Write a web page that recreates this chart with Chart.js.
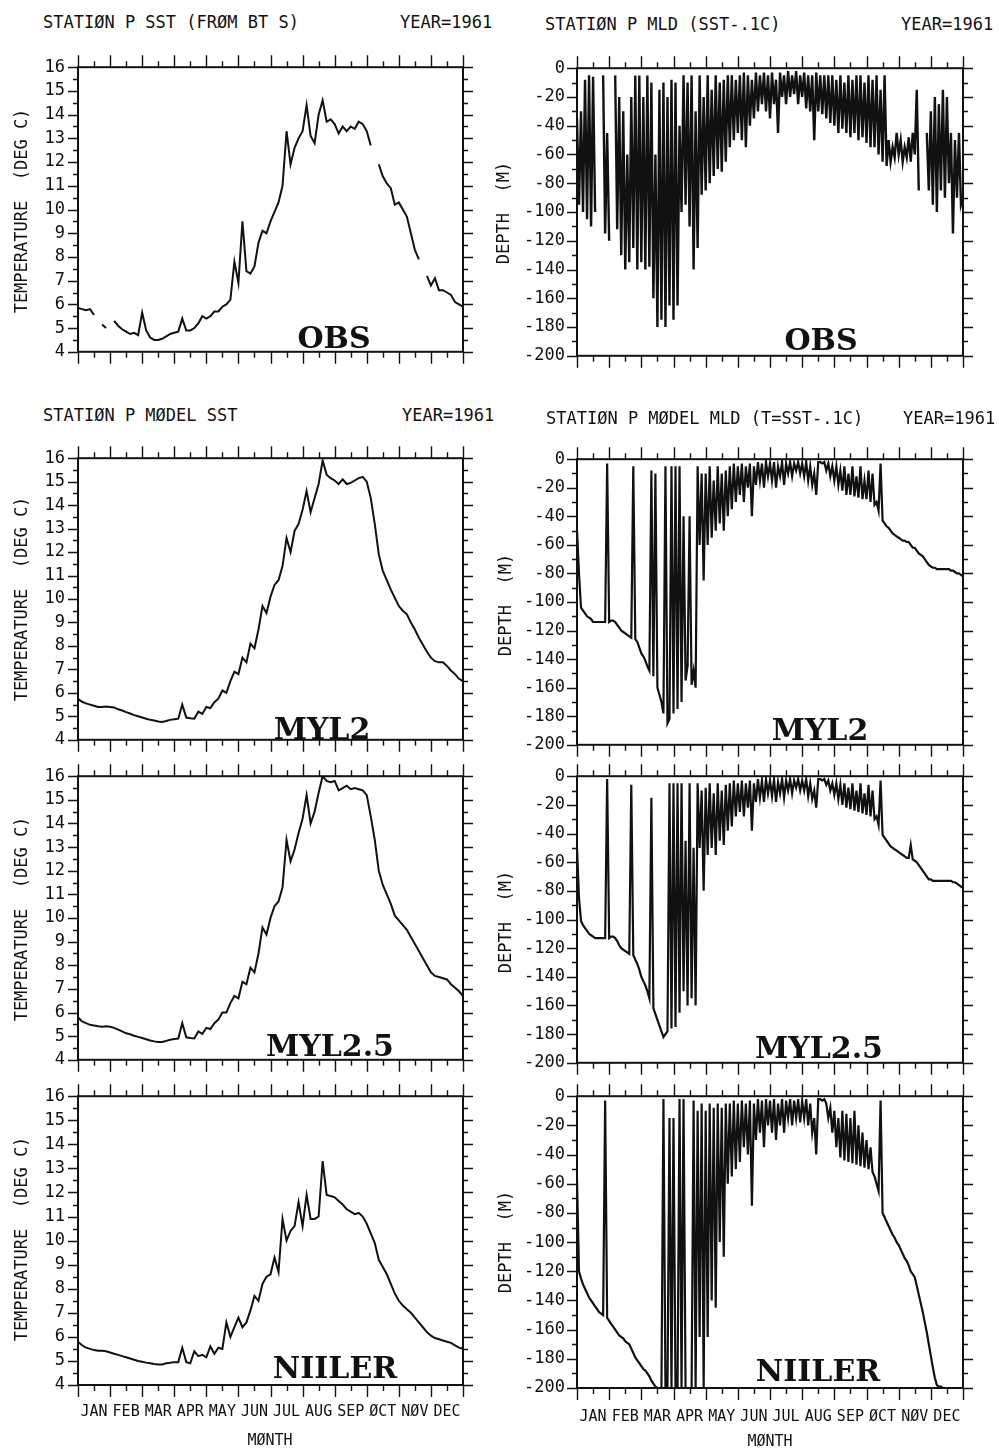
<!DOCTYPE html>
<html>
<head>
<meta charset="utf-8">
<title>Station P 1961 - SST y MLD</title>
<script src="https://cdn.jsdelivr.net/npm/chart.js@4.4.0/dist/chart.umd.min.js"></script>
<style>
  body { margin: 0; background: #fff; }
  #hoja { position: relative; width: 999px; height: 1451px; overflow: hidden; background: #fff; }
  canvas { position: absolute; }
  .txt, .eje, .mes { position: absolute; font-family: 'DejaVu Sans Mono', monospace; color: #111; line-height: 1; white-space: pre; }
  .txt { font-size: 17px; transform: translateY(-50%); }
  .eje { font-size: 17px; transform: translate(-50%, -50%) rotate(-90deg); }
  .mes { font-size: 15px; transform: translate(-50%, -50%); }
  .modelo { position: absolute; font-family: 'DejaVu Serif', serif; font-weight: bold; font-size: 30px; line-height: 1; color: #111; transform: translate(-50%, -50%); white-space: pre; }
</style>
</head>
<body>
<div id="hoja">
  <canvas id="sstObs" width="500" height="331" style="left:0;top:44px"></canvas>
  <canvas id="sstMyl2" width="500" height="328" style="left:0;top:435px"></canvas>
  <canvas id="sstMyl25" width="500" height="330" style="left:0;top:753px"></canvas>
  <canvas id="sstNiiler" width="500" height="357" style="left:0;top:1073px"></canvas>
  <canvas id="mldObs" width="504" height="332" style="left:495px;top:46px"></canvas>
  <canvas id="mldMyl2" width="504" height="330" style="left:495px;top:437px"></canvas>
  <canvas id="mldMyl25" width="504" height="331" style="left:495px;top:754px"></canvas>
  <canvas id="mldNiiler" width="504" height="359" style="left:495px;top:1074px"></canvas>

  <div class="txt" style="left:43px;top:22px">STATIØN P SST (FRØM BT S)</div>
  <div class="txt" style="left:400px;top:22px">YEAR=1961</div>
  <div class="txt" style="left:545px;top:24px">STATIØN P MLD (SST-.1C)</div>
  <div class="txt" style="left:901px;top:24px">YEAR=1961</div>
  <div class="txt" style="left:43px;top:415px">STATIØN P MØDEL SST</div>
  <div class="txt" style="left:402px;top:415px">YEAR=1961</div>
  <div class="txt" style="left:546px;top:418px">STATIØN P MØDEL MLD (T=SST-.1C)</div>
  <div class="txt" style="left:903px;top:418px">YEAR=1961</div>

  <div class="eje" style="left:21px;top:211px">TEMPERATURE  (DEG C)</div>
  <div class="eje" style="left:21px;top:599px">TEMPERATURE  (DEG C)</div>
  <div class="eje" style="left:21px;top:919px">TEMPERATURE  (DEG C)</div>
  <div class="eje" style="left:21px;top:1239px">TEMPERATURE  (DEG C)</div>
  <div class="eje" style="left:503px;top:213px">DEPTH  (M)</div>
  <div class="eje" style="left:505px;top:605px">DEPTH  (M)</div>
  <div class="eje" style="left:505px;top:922px">DEPTH  (M)</div>
  <div class="eje" style="left:505px;top:1242px">DEPTH  (M)</div>

  <div class="modelo" style="left:334px;top:338px">OBS</div>
  <div class="modelo" style="left:821px;top:340px">OBS</div>
  <div class="modelo" style="left:322px;top:729px">MYL2</div>
  <div class="modelo" style="left:820px;top:730px">MYL2</div>
  <div class="modelo" style="left:330px;top:1046px">MYL2.5</div>
  <div class="modelo" style="left:819px;top:1048px">MYL2.5</div>
  <div class="modelo" style="left:335px;top:1368px">NIILER</div>
  <div class="modelo" style="left:818px;top:1371px">NIILER</div>

  <div class="mes" style="left:270px;top:1440px">MØNTH</div>
  <div class="mes" style="left:770px;top:1441px">MØNTH</div>
</div>

<script>
//---------------------Datos (1961)--------------------------------------------

const meses = ['JAN', 'FEB', 'MAR', 'APR', 'MAY', 'JUN', 'JUL', 'AUG', 'SEP', 'ØCT', 'NØV', 'DEC'];
const ticksTemp = [4, 5, 6, 7, 8, 9, 10, 11, 12, 13, 14, 15, 16];
const ticksProf = [-200, -180, -160, -140, -120, -100, -80, -60, -40, -20, 0];

// SST cada 1/8 de mes (97 valores, ENE 1 -> DIC 31)
const sstObs = [
  5.85, 5.8, 5.75, 5.8, 5.55, null, 5.15, 5.0, null, 5.3, 5.1, 4.95, 4.85, 4.75, 4.8, 4.7,
  5.65, 4.9, 4.6, 4.5, 4.5, 4.55, 4.65, 4.75, 4.8, 4.85, 5.4, 4.9, 4.9, 5.0, 5.2, 5.5,
  5.4, 5.5, 5.7, 5.7, 5.9, 6.0, 6.2, 7.8, 6.9, 9.5, 7.4, 7.3, 7.6, 8.6, 9.1, 9.0,
  9.5, 9.9, 10.3, 11.0, 13.3, 11.9, 12.6, 13.0, 13.3, 14.4, 13.1, 12.8, 14.0, 14.6, 13.7, 13.8,
  13.6, 13.2, 13.5, 13.3, 13.5, 13.4, 13.7, 13.6, 13.3, 12.7, null, 11.9, 11.4, 11.1, 10.9, 10.2,
  10.3, 10.0, 9.7, 9.0, 8.3, 7.9, null, 7.2, 6.8, 7.1, 6.6, 6.6, 6.5, 6.4, 6.1, 6.0, 5.9
];
const sstMyl2 = [
  5.75, 5.62, 5.55, 5.5, 5.45, 5.4, 5.4, 5.42, 5.4, 5.38, 5.3, 5.25, 5.18, 5.12, 5.05, 5.0,
  4.95, 4.9, 4.85, 4.82, 4.78, 4.76, 4.8, 4.85, 4.88, 4.9, 5.5, 4.95, 4.92, 4.9, 5.2, 5.1,
  5.4, 5.35, 5.6, 5.75, 6.1, 6.0, 6.5, 6.9, 6.8, 7.5, 7.3, 8.1, 7.9, 8.7, 9.7, 9.4,
  10.1, 10.6, 10.8, 11.4, 12.6, 12.0, 12.9, 13.2, 13.8, 14.6, 13.7, 14.3, 14.9, 15.9, 15.3, 15.15,
  15.05, 14.9, 15.1, 14.9, 14.95, 15.05, 15.15, 15.2, 15.0, 14.3, 13.2, 11.9, 11.2, 10.8, 10.4, 10.05,
  9.7, 9.5, 9.35, 9.0, 8.7, 8.35, 8.05, 7.75, 7.5, 7.35, 7.3, 7.3, 7.15, 6.95, 6.8, 6.6, 6.5
];
const sstMyl25 = [
  5.8, 5.62, 5.55, 5.48, 5.45, 5.42, 5.4, 5.42, 5.4, 5.35, 5.28, 5.2, 5.12, 5.08, 5.02, 4.97,
  4.92, 4.87, 4.82, 4.78, 4.75, 4.75, 4.8, 4.85, 4.88, 4.9, 5.55, 4.95, 4.92, 4.9, 5.2, 5.1,
  5.35, 5.3, 5.55, 5.7, 6.0, 6.0, 6.4, 6.7, 6.6, 7.3, 7.2, 7.9, 7.7, 8.5, 9.6, 9.3,
  10.0, 10.5, 10.7, 11.3, 13.3, 12.4, 12.9, 13.6, 14.2, 15.2, 14.0, 14.5, 15.3, 16.0, 15.8, 15.75,
  15.8, 15.4, 15.5, 15.6, 15.45, 15.5, 15.45, 15.4, 15.2, 14.3, 13.3, 12.0, 11.4, 11.0, 10.6, 10.1,
  9.9, 9.7, 9.5, 9.2, 8.9, 8.6, 8.3, 8.0, 7.7, 7.55, 7.5, 7.45, 7.4, 7.2, 7.05, 6.9, 6.7
];
const sstNiiler = [
  5.8, 5.65, 5.55, 5.5, 5.45, 5.42, 5.42, 5.4, 5.35, 5.3, 5.25, 5.2, 5.15, 5.1, 5.05, 5.0,
  4.97, 4.93, 4.9, 4.87, 4.85, 4.85, 4.9, 4.92, 4.95, 4.95, 5.55, 4.95, 4.9, 5.4, 5.2, 5.25,
  5.15, 5.6, 5.3, 5.55, 5.5, 6.6, 6.0, 6.4, 6.8, 6.4, 6.6, 7.1, 7.7, 7.5, 8.2, 8.5,
  8.6, 9.3, 8.7, 10.9, 10.0, 10.4, 10.6, 11.6, 10.6, 11.9, 10.9, 10.9, 11.0, 13.3, 11.9, 11.85,
  11.8, 11.65, 11.5, 11.3, 11.2, 11.1, 11.15, 11.0, 10.7, 10.3, 9.9, 9.2, 8.9, 8.6, 8.2, 7.8,
  7.5, 7.3, 7.15, 7.0, 6.8, 6.6, 6.4, 6.2, 6.05, 5.95, 5.9, 5.85, 5.8, 5.75, 5.65, 5.55, 5.5
];

// MLD cada 1/16 de mes (193 valores), una fila por mes
const mldObs = [
  -35, -95, -30, -100, -8, -105, -5, -110, -6, -100, null, null, null, -5, -115, -45,
  -120, null, null, -5, -112, -20, -130, -30, -140, -60, -135, -20, -125, -5, -140, -5,
  -135, -20, -140, -5, -138, -10, -160, -60, -180, -15, -175, -10, -180, -20, -165, -8,
  -175, -10, -165, -40, -100, -5, -95, -10, -110, -5, -140, -30, -125, -5, -88, -20,
  -85, -5, -80, -15, -75, -5, -70, -10, -72, -8, -65, -5, -55, -5, -50, -8,
  -45, -5, -50, -3, -55, -5, -40, -8, -35, -3, -30, -5, -25, -3, -30, -5,
  -35, -3, -25, -8, -45, -3, -20, -5, -25, -2, -20, -5, -18, -2, -25, -5,
  -20, -3, -28, -5, -30, -5, -50, -3, -30, -5, -32, -5, -35, -5, -38, -5,
  -40, -8, -45, -5, -42, -10, -45, -5, -48, -8, -45, -5, -50, -5, -48, -10,
  -52, -5, -55, -8, -55, -5, -60, -15, -65, -5, -68, -50, -65, -55, -62, -45,
  -60, -50, -65, -55, -62, -48, -65, -45, -60, -15, -85, null, null, null, -45, -85,
  -30, -95, -20, -100, -25, -85, -15, -90, -20, -80, -45, -115, -50, -90, -45, -95, -90
];
const mldMyl2 = [
  -50, -80, -104, -106, -108, -110, -111, -112, -114, -114, -114, -114, -114, -114, -114, -3,
  -114, -113, -113, -114, -116, -118, -120, -121, -122, -123, -124, -125, -5, -126, -128, -132,
  -136, -138, -141, -145, -148, -8, -152, -10, -160, -165, -170, -178, -5, -185, -182, -5,
  -178, -5, -175, -5, -170, -40, -155, -145, -40, -158, -148, -160, -5, -60, -10, -85,
  -10, -60, -5, -55, -15, -50, -5, -45, -10, -50, -8, -40, -5, -35, -3, -30,
  -5, -25, -3, -30, -5, -20, -3, -40, -5, -18, -2, -15, -3, -20, -2, -12,
  -3, -15, -2, -20, -5, -12, -2, -18, -3, -10, -2, -12, -3, -8, -2, -10,
  -3, -12, -2, -15, -5, -18, -10, -25, -2, -2, -3, -2, -8, -3, -12, -5,
  -15, -5, -18, -8, -22, -5, -25, -10, -25, -5, -26, -12, -27, -5, -28, -15,
  -28, -8, -30, -10, -32, -30, -36, -3, -43, -45, -47, -48, -50, -52, -53, -54,
  -55, -56, -57, -57, -58, -58, -60, -62, -62, -64, -66, -67, -68, -70, -72, -74,
  -75, -76, -76, -77, -77, -77, -77, -77, -77, -77, -78, -78, -79, -80, -80, -81, -82
];
const mldMyl25 = [
  -50, -85, -101, -104, -106, -108, -110, -111, -112, -113, -113, -113, -113, -113, -113, -2,
  -113, -112, -112, -113, -115, -118, -120, -121, -122, -123, -124, -6, -125, -128, -131, -135,
  -140, -143, -146, -150, -155, -15, -162, -166, -170, -174, -178, -182, -180, -178, -5, -176,
  -5, -175, -5, -165, -5, -150, -45, -160, -5, -155, -50, -160, -5, -50, -10, -80,
  -8, -55, -5, -50, -12, -55, -5, -45, -10, -48, -6, -38, -5, -35, -3, -28,
  -5, -25, -3, -28, -5, -22, -3, -38, -5, -18, -2, -15, -3, -18, -2, -12,
  -3, -14, -2, -18, -4, -12, -2, -15, -3, -10, -2, -12, -3, -8, -2, -10,
  -3, -10, -2, -14, -5, -16, -10, -22, -2, -2, -3, -2, -6, -3, -10, -5,
  -13, -5, -16, -6, -20, -5, -22, -8, -23, -5, -24, -10, -25, -5, -26, -12,
  -27, -6, -28, -10, -30, -28, -34, -3, -41, -43, -45, -47, -49, -50, -51, -52,
  -53, -54, -55, -56, -57, -57, -48, -58, -59, -60, -62, -64, -66, -68, -70, -72,
  -72, -73, -73, -73, -73, -73, -73, -73, -73, -73, -73, -74, -74, -75, -76, -77, -78
];
const mldNiiler = [
  -57, -120, -125, -129, -132, -135, -138, -140, -142, -144, -146, -148, -149, -150, -3, -152,
  -154, -156, -158, -160, -162, -164, -165, -166, -168, -169, -170, -173, -176, -179, -181, -183,
  -185, -187, -188, -190, -192, -195, -197, -199, -200, -200, -200, -2, -200, -200, -15, -200,
  -15, -200, -200, -2, -200, -2, -200, -200, -200, -200, -3, -200, -10, -165, -5, -200,
  -10, -165, -5, -140, -8, -145, -5, -100, -8, -110, -5, -60, -5, -55, -3, -50,
  -5, -45, -3, -35, -5, -40, -3, -75, -5, -30, -2, -25, -3, -35, -2, -20,
  -3, -25, -2, -30, -5, -20, -2, -25, -3, -15, -2, -20, -3, -15, -2, -18,
  -3, -15, -2, -20, -5, -25, -15, -40, -2, -2, -3, -2, -5, -15, -8, -25,
  -10, -35, -15, -42, -10, -44, -12, -45, -15, -46, -10, -47, -20, -48, -25, -49,
  -30, -50, -35, -52, -55, -60, -65, -3, -80, -83, -86, -89, -92, -95, -97, -100,
  -102, -105, -108, -111, -113, -116, -120, -122, -124, -130, -136, -142, -148, -155, -162, -170,
  -178, -186, -193, -198, -199, -199, -200, -200, -200, -200, -200, -200, -200, -200, -200, -200, -200
];

//---------------------Ejes: marco y marcas de ticks-----------------------

const tinta = '#111';
const fuenteEje = { family: "'DejaVu Sans Mono', monospace", size: 17 };
const fuenteMes = { family: "'DejaVu Sans Mono', monospace", size: 15 };

const ejeTemp = { ticks: ticksTemp, mayor: 1, menor: 0.5, ancho: 78, derecha: 37, sep: 13, sepMes: 18 };
const ejeProf = { ticks: ticksProf, mayor: 20, menor: 10, ancho: 82, derecha: 36, sep: 12, sepMes: 20 };

// dibuja el recuadro y los ticks hacia afuera en los 4 lados
const marcoConTicks = {
  id: 'marcoConTicks',
  afterDatasetsDraw(chart, args, opts) {
    const { ctx, chartArea: a, scales: { x, y } } = chart;
    ctx.save();
    ctx.strokeStyle = tinta;
    ctx.lineWidth = 1.4;
    ctx.beginPath();
    const pasos = Math.round((y.max - y.min) / opts.menor);
    const cada = Math.round(opts.mayor / opts.menor);
    for (let k = 0; k <= pasos; k++) {
      const py = Math.round(y.getPixelForValue(y.min + k * opts.menor)) + 0.5;
      const largo = k % cada === 0 ? 10 : 5;
      ctx.moveTo(a.left - largo, py); ctx.lineTo(a.left, py);
      ctx.moveTo(a.right, py); ctx.lineTo(a.right + largo, py);
    }
    for (let k = 0; k <= meses.length * 2; k++) {
      const px = Math.round(x.getPixelForValue(k / 2)) + 0.5;
      const largo = k % 2 === 0 ? 12 : 6;
      ctx.moveTo(px, a.top - largo); ctx.lineTo(px, a.top);
      ctx.moveTo(px, a.bottom); ctx.lineTo(px, a.bottom + largo);
    }
    ctx.stroke();
    ctx.lineWidth = 2;
    ctx.strokeRect(a.left, a.top, a.right - a.left, a.bottom - a.top);
    ctx.restore();
  }
};

//---------------------Función para cada panel-----------------------

function crearGrafica(idCanvas, serie, eje, grosor, conMeses) {
  const ctx = document.getElementById(idCanvas).getContext('2d');
  const puntos = serie.map((v, i) => ({ x: i * meses.length / (serie.length - 1), y: v }));
  return new Chart(ctx, {
    type: 'line',
    data: {
      datasets: [{
        data: puntos,
        borderColor: tinta,
        borderWidth: grosor,
        pointRadius: 0,
        tension: 0,
        spanGaps: false
      }]
    },
    options: {
      responsive: false,
      animation: false,
      events: [],
      layout: { padding: { top: 20, right: eje.derecha, bottom: conMeses ? 0 : 20, left: 0 } },
      plugins: {
        legend: { display: false },
        tooltip: { enabled: false },
        marcoConTicks: { mayor: eje.mayor, menor: eje.menor }
      },
      scales: {
        x: {
          type: 'linear',
          min: 0,
          max: meses.length,
          display: conMeses,
          afterBuildTicks: (s) => { s.ticks = meses.map((m, i) => ({ value: i + 0.5 })); },
          afterFit: (s) => { s.height = conMeses ? 45 : 0; },
          grid: { display: false, drawTicks: false },
          border: { display: false },
          ticks: {
            autoSkip: false,
            maxRotation: 0,
            padding: eje.sepMes,
            color: tinta,
            font: fuenteMes,
            callback: (v, i) => meses[i]
          }
        },
        y: {
          min: eje.ticks[0],
          max: eje.ticks[eje.ticks.length - 1],
          afterBuildTicks: (s) => { s.ticks = eje.ticks.map(v => ({ value: v })); },
          afterFit: (s) => { s.width = eje.ancho; },
          grid: { display: false, drawTicks: false },
          border: { display: false },
          ticks: {
            autoSkip: false,
            padding: eje.sep,
            color: tinta,
            font: fuenteEje,
            callback: (v) => String(v)
          }
        }
      }
    },
    plugins: [marcoConTicks]
  });
}

//---------------------Paneles SST (izquierda) y MLD (derecha)-----------------------

crearGrafica('sstObs', sstObs, ejeTemp, 2, false);
crearGrafica('sstMyl2', sstMyl2, ejeTemp, 2, false);
crearGrafica('sstMyl25', sstMyl25, ejeTemp, 2, false);
crearGrafica('sstNiiler', sstNiiler, ejeTemp, 2, true);

crearGrafica('mldObs', mldObs, ejeProf, 2.4, false);
crearGrafica('mldMyl2', mldMyl2, ejeProf, 2.2, false);
crearGrafica('mldMyl25', mldMyl25, ejeProf, 2.2, false);
crearGrafica('mldNiiler', mldNiiler, ejeProf, 2.2, true);
</script>
</body>
</html>
